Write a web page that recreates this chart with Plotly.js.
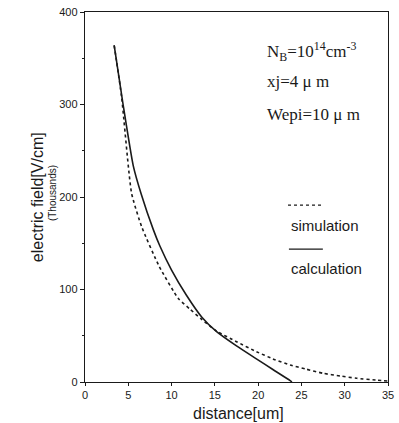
<!DOCTYPE html>
<html>
<head>
<meta charset="utf-8">
<script src="https://cdn.plot.ly/plotly-3.0.1.min.js"></script>
<style>html,body{margin:0;padding:0;background:#fff;}#chart{width:399px;height:423px;}</style>
</head>
<body>
<div id="chart"></div>
<script>
// distance [um] and electric field [V/cm, thousands]
const calcX = [3.37, 4.4, 5.57, 6.5, 7.88, 8.65, 10.0, 11.7, 13.5, 15.2, 17.5, 19.8, 21.7, 23.7, 23.9];
const calcY = [364, 300, 234, 203, 165, 147, 121, 94, 70, 54.4, 39, 25, 13.5, 1.5, 0];
const simX = [3.37, 4.23, 5.38, 6.54, 8.57, 10.8, 12.1, 13.5, 15.2, 17.5, 19.8, 21.7, 23.7, 25.5, 27.5, 29.5, 31.4, 33.7, 35.0];
const simY = [364, 308, 204, 168, 125, 90, 79, 67.5, 55, 43.6, 32.8, 25, 18.4, 14, 9.4, 6.5, 4, 2, 1];
const xTicks = [0, 5, 10, 15, 20, 25, 30, 35];
const yTicks = [0, 100, 200, 300, 400];

const sans = 'Liberation Sans, Arial, sans-serif';
const serif = 'Liberation Serif, Times New Roman, serif';
const ink = '#1a1a1a';

const traces = [
  {x: simX, y: simY, type: 'scatter', mode: 'lines', name: 'simulation',
   line: {color: ink, width: 1.6, dash: 'dot', shape: 'spline', smoothing: 0.5}},
  {x: calcX, y: calcY, type: 'scatter', mode: 'lines', name: 'calculation',
   line: {color: ink, width: 1.6, shape: 'spline', smoothing: 0.5}}
];

function note(text, x, y, opts) {
  return Object.assign({text: text, xref: 'paper', yref: 'paper', x: x, y: y,
    xanchor: 'center', yanchor: 'middle', showarrow: false}, opts);
}

const layout = {
  width: 399, height: 423,
  margin: {l: 85, r: 11, t: 12, b: 41},
  paper_bgcolor: '#fff', plot_bgcolor: '#fff',
  showlegend: false,
  font: {family: sans, color: ink},
  xaxis: {
    range: [0, 35], tickvals: xTicks, ticktext: xTicks.map(String),
    ticks: 'outside', ticklen: 3, tickwidth: 1, tickcolor: ink,
    showline: true, linecolor: ink, linewidth: 1.2, mirror: true,
    showgrid: false, zeroline: false,
    tickfont: {family: sans, size: 11, color: ink}
  },
  yaxis: {
    range: [0, 400], tickvals: yTicks, ticktext: yTicks.map(String),
    ticks: 'outside', ticklen: 4, tickwidth: 1, tickcolor: ink,
    minor: {dtick: 50, ticks: 'outside', ticklen: 2, tickcolor: ink},
    showline: true, linecolor: ink, linewidth: 1.2, mirror: true,
    showgrid: false, zeroline: false,
    tickfont: {family: sans, size: 11, color: ink}
  },
  annotations: [
    note('electric field[V/cm]', -0.158, 0.5, {textangle: -90, font: {family: sans, size: 16, color: ink}}),
    note('(Thousands)', -0.105, 0.511, {textangle: -90, font: {family: sans, size: 10, color: ink}}),
    note('distance[um]', 0.505, -0.0838, {font: {family: sans, size: 16, color: ink}}),
    note('N<sub>B</sub>=10<sup>14</sup>cm<sup>-3</sup>', 0.594, 0.892, {xanchor: 'left', font: {family: serif, size: 17, color: ink}}),
    note('xj=4 μ m', 0.594, 0.811, {xanchor: 'left', font: {family: serif, size: 17, color: ink}}),
    note('Wepi=10 μ m', 0.594, 0.722, {xanchor: 'left', font: {family: serif, size: 17, color: ink}}),
    note('simulation', 0.674, 0.424, {xanchor: 'left', font: {family: sans, size: 15, color: ink}}),
    note('calculation', 0.674, 0.308, {xanchor: 'left', font: {family: sans, size: 15, color: ink}})
  ],
  shapes: [
    {type: 'line', xref: 'paper', yref: 'paper', x0: 0.67, x1: 0.782, y0: 0.478, y1: 0.478,
     line: {color: ink, width: 1.3, dash: 'dot'}},
    {type: 'line', xref: 'paper', yref: 'paper', x0: 0.673, x1: 0.785, y0: 0.359, y1: 0.359,
     line: {color: ink, width: 1.3}}
  ]
};

Plotly.newPlot('chart', traces, layout, {displayModeBar: false, staticPlot: true});
</script>
</body>
</html>
